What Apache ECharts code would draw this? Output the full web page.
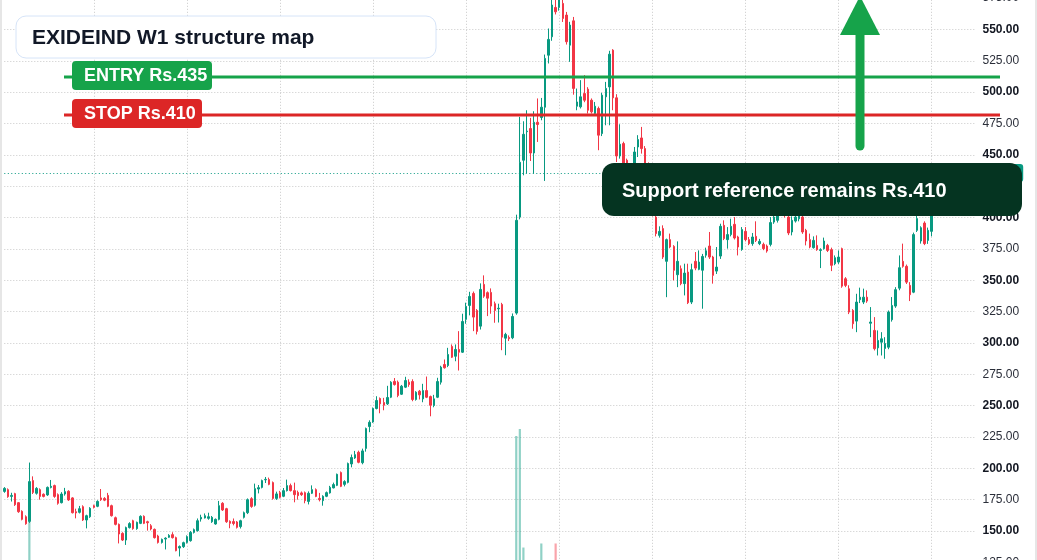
<!DOCTYPE html>
<html>
<head>
<meta charset="utf-8">
<title>EXIDEIND W1</title>
<script src="https://cdn.jsdelivr.net/npm/echarts@6/dist/echarts.min.js"></script>
<style>
  html, body { margin: 0; padding: 0; background: #fff; }
  #chart { width: 1037px; height: 560px; }
</style>
</head>
<body>
<div id="chart"></div>
<script>
// weekly candles (oldest first)
var opens = [
  181.6,183.0,177.6,179.8,172.6,165.7,161.4,157.7,190.2,180.1,
  183.0,179.3,178.8,184.8,186.2,179.0,172.6,179.5,181.7,176.4,
  165.4,164.9,169.4,158.8,161.4,170.2,169.7,176.4,176.0,178.4,
  170.2,160.6,155.3,148.1,142.8,152.7,158.2,151.9,156.1,161.7,
  157.4,154.2,151.3,146.0,140.9,143.6,145.0,147.1,144.7,136.4,
  137.5,140.9,142.3,148.9,150.3,159.6,160.4,160.1,157.4,155.6,
  159.3,172.1,167.8,157.7,157.5,157.2,153.5,160.9,164.6,175.8,
  170.5,183.5,184.8,190.8,191.0,188.6,176.0,180.6,177.7,182.2,
  186.2,182.2,180.8,180.4,180.6,173.6,180.1,183.0,176.0,174.2,
  177.7,180.4,184.4,186.4,196.6,187.2,188.8,203.5,208.3,212.8,
  204.5,215.9,233.3,237.0,247.7,255.7,252.5,251.4,256.7,269.3,
  268.7,259.1,264.7,268.7,269.2,254.9,261.5,255.4,262.0,257.2,
  250.1,256.7,268.7,282.8,282.0,297.2,289.4,294.8,292.6,318.8,
  329.9,339.5,325.9,313.4,346.7,340.1,340.3,331.3,327.2,330.7,
  303.8,304.4,304.1,323.8,400.4,445.7,468.5,471.0,451.5,476.0,
  479.8,488.0,529.5,544.2,567.6,567.6,570.8,561.5,537.5,556.9,
  488.8,488.3,498.9,502.4,493.6,483.0,487.0,467.0,496.3,504.2,
  533.5,495.5,449.1,459.0,445.7,440.0,443.1,456.3,463.5,455.0,
  440.0,428.0,400.4,385.8,391.2,365.1,382.4,377.0,354.4,359.2,
  347.3,356.5,332.6,365.1,358.7,358.0,370.0,377.3,368.5,357.3,
  369.3,393.8,382.4,386.4,394.6,384.5,374.6,389.0,382.4,379.2,
  385.0,379.2,378.6,377.3,378.6,396.4,397.8,404.0,410.0,400.4,
  388.5,397.2,399.0,400.4,389.8,382.4,376.0,377.8,373.8,375.2,
  377.8,374.4,363.2,364.5,375.2,351.2,343.2,325.9,317.4,334.5,
  332.6,336.5,315.7,310.0,296.1,300.6,295.6,296.6,318.5,329.4,
  343.7,365.1,361.1,345.9,340.5,389.8,381.3,395.6,381.8,389.0
];
var closes = [
  184.0,177.4,178.4,171.0,165.4,159.3,155.8,189.4,180.8,184.0,
  177.6,177.6,184.8,185.6,177.6,172.1,179.5,181.4,174.8,164.6,
  164.4,167.8,158.8,162.2,168.1,168.9,173.6,175.0,174.6,169.7,
  162.2,155.3,147.6,142.8,152.7,155.9,151.9,156.9,161.7,156.1,
  156.6,151.6,144.7,140.9,143.3,144.3,146.5,144.7,134.3,137.6,
  140.7,145.5,148.9,151.1,158.2,160.9,162.2,161.4,160.9,159.3,
  170.2,166.8,157.4,156.1,156.0,152.9,158.2,164.6,175.0,169.6,
  183.8,184.6,190.2,191.2,187.2,176.0,179.6,176.9,182.2,186.2,
  182.2,179.0,178.2,179.0,174.2,180.1,183.0,177.6,175.0,177.7,
  180.6,184.8,187.0,195.2,185.6,189.4,203.8,208.6,210.9,204.8,
  213.9,231.7,236.7,247.7,254.1,251.4,250.3,256.5,268.7,266.8,
  258.1,265.5,270.0,266.8,254.9,260.7,258.6,262.0,256.7,250.3,
  255.4,269.2,280.7,280.2,290.8,288.6,294.8,292.6,317.1,329.1,
  337.1,320.6,309.2,342.7,337.3,335.7,329.4,325.9,327.7,304.6,
  306.8,303.4,321.1,397.8,444.1,466.4,469.0,451.5,476.0,474.2,
  488.0,526.9,542.1,569.5,564.1,573.5,558.8,540.2,553.5,503.0,
  492.2,496.3,493.6,485.6,484.3,488.8,465.7,497.6,503.0,530.3,
  495.5,449.1,458.5,440.3,441.0,433.0,452.3,462.2,455.0,440.0,
  428.0,404.0,387.2,389.0,368.5,382.4,376.5,357.9,365.1,347.3,
  355.7,332.1,358.4,359.7,364.5,369.0,373.5,368.5,353.9,360.5,
  393.0,383.2,386.4,393.0,383.7,376.5,390.4,382.4,379.2,384.5,
  381.8,381.0,375.2,373.3,396.0,400.4,404.2,410.0,403.0,387.7,
  397.8,400.4,404.0,388.5,381.3,376.5,381.8,374.4,374.4,381.3,
  373.8,361.9,368.0,368.5,345.3,345.9,324.6,315.3,332.6,336.5,
  336.5,333.4,316.7,295.4,302.0,303.3,299.6,324.6,329.9,342.5,
  360.0,361.1,348.5,338.5,386.4,399.2,391.9,379.2,389.8,435.5
];
var lows = [
  180.5,176.5,173.5,170.0,164.5,158.5,155.0,156.5,179.5,179.0,
  175.0,176.8,178.0,184.0,176.5,171.0,172.0,178.2,174.0,164.0,
  160.1,164.0,158.0,152.1,160.5,168.0,169.0,174.0,173.8,169.0,
  161.5,154.5,140.1,142.0,138.9,152.0,151.0,151.0,155.5,155.5,
  150.3,150.5,144.0,140.0,140.0,135.3,144.5,144.0,133.8,129.7,
  136.5,140.0,141.5,148.0,149.5,157.5,160.0,159.0,156.5,155.0,
  158.5,166.0,156.5,152.2,154.5,152.0,152.0,160.0,163.5,168.5,
  169.5,180.0,184.0,188.3,186.5,175.0,174.8,176.0,177.0,181.5,
  181.5,172.9,175.0,178.0,172.1,171.2,179.5,177.0,173.6,170.2,
  177.0,179.8,184.0,185.8,185.0,185.6,188.0,200.8,207.5,204.0,
  203.2,213.3,228.8,236.3,247.0,243.9,246.3,250.5,256.0,266.0,
  256.7,258.5,264.0,265.0,253.5,254.0,254.9,252.7,256.0,241.5,
  248.7,256.0,266.8,279.5,280.7,288.0,285.4,278.0,292.0,315.3,
  322.0,309.4,306.8,310.7,336.0,321.4,323.3,316.1,316.3,294.2,
  290.2,301.5,303.0,322.5,398.6,433.7,435.3,445.1,435.1,460.3,
  477.6,429.2,522.9,541.0,562.0,565.0,556.0,538.0,524.2,498.0,
  485.6,487.0,492.0,483.0,483.0,481.5,453.7,465.0,473.6,473.6,
  485.6,444.3,447.0,438.0,437.0,430.0,440.0,448.3,451.0,436.0,
  424.0,401.0,385.0,384.0,367.0,336.5,375.5,349.9,344.5,346.0,
  337.9,331.0,331.0,358.0,358.0,327.3,368.0,367.0,347.3,355.0,
  367.0,382.0,375.2,385.0,382.5,369.8,373.5,381.0,378.0,377.5,
  380.5,378.0,374.0,372.0,377.0,395.0,396.0,402.0,400.0,386.0,
  385.8,396.0,397.0,387.0,377.8,375.5,375.2,373.5,359.7,374.5,
  372.5,357.3,362.0,363.0,344.0,344.5,323.0,311.3,308.6,331.8,
  331.0,332.0,304.6,294.0,290.0,290.0,287.4,295.0,317.0,328.0,
  342.0,360.0,347.0,333.4,339.7,388.5,379.2,378.0,379.0,385.0
];
var highs = [
  185.0,184.0,180.5,180.5,173.0,166.5,162.5,204.6,193.6,185.0,
  184.0,180.0,185.5,190.7,187.0,180.0,181.0,184.4,182.5,177.0,
  167.8,170.0,170.5,163.0,169.0,171.0,174.5,183.5,177.0,180.4,
  171.0,161.5,156.0,149.0,153.5,157.0,159.0,157.5,162.5,162.5,
  158.2,155.5,152.0,147.0,144.0,145.0,147.5,149.0,145.5,138.5,
  141.5,146.5,150.0,152.0,160.0,163.0,164.0,164.6,162.0,160.0,
  174.0,173.0,168.5,158.5,160.0,158.0,159.0,165.5,176.0,177.0,
  187.8,186.7,191.0,193.1,192.6,189.5,181.4,182.0,184.3,191.0,
  187.8,188.6,182.2,181.5,181.5,181.6,186.4,184.0,180.4,178.5,
  181.5,186.0,188.6,195.8,197.5,190.5,204.6,211.0,213.9,214.1,
  215.7,232.5,238.3,248.5,257.5,256.5,256.2,265.8,269.5,272.0,
  270.0,266.5,273.0,271.0,271.0,261.5,262.5,267.4,273.2,258.0,
  258.6,272.2,281.8,286.8,296.1,298.8,298.8,309.4,323.3,332.1,
  340.8,341.0,327.0,347.5,353.9,341.1,343.5,333.0,331.3,332.0,
  308.1,306.0,323.5,402.3,480.3,476.8,485.6,479.5,484.8,495.0,
  495.4,530.0,550.8,574.0,574.0,578.0,578.0,564.0,556.1,560.0,
  502.9,509.6,513.6,504.0,495.0,492.2,488.5,499.5,508.2,533.0,
  534.3,498.4,474.4,460.5,447.0,441.0,456.3,465.7,472.3,457.0,
  444.0,431.0,410.0,393.0,393.8,383.2,387.2,378.0,381.0,361.8,
  363.2,363.2,363.2,372.5,373.8,371.0,376.0,388.5,369.5,376.5,
  395.1,397.8,392.4,399.1,400.4,385.5,392.4,392.4,384.5,387.7,
  397.0,383.0,380.0,378.5,400.4,404.0,408.0,414.0,413.0,405.0,
  401.0,404.0,408.0,404.0,391.0,387.2,385.0,385.8,375.5,384.0,
  379.0,376.0,369.8,373.8,376.0,352.5,346.0,327.0,339.2,344.1,
  343.3,341.9,328.6,320.6,310.0,308.6,304.6,325.9,336.6,344.5,
  369.8,379.2,362.5,348.5,388.0,403.1,393.0,397.0,392.0,440.0
];
// weekly volume (millions)
var volumes = [
  4.2,3.8,3.1,4.6,5.0,4.4,5.3,33.0,9.8,5.1,
  4.0,3.2,3.9,4.8,4.5,3.7,3.3,2.9,3.6,5.2,
  3.4,3.0,4.7,4.1,3.8,2.7,3.1,4.4,2.9,3.9,
  4.3,5.0,6.1,4.4,5.2,3.5,3.6,3.2,3.9,3.4,
  3.0,2.9,3.8,4.1,3.0,3.6,2.8,2.6,5.4,4.9,
  3.7,4.2,4.5,3.3,5.6,4.1,3.5,3.2,2.9,3.1,
  6.4,4.0,4.6,3.1,2.8,3.3,3.6,4.4,6.2,4.3,
  7.5,3.9,5.1,3.4,3.6,5.8,3.2,3.0,3.5,4.2,
  3.7,4.3,3.1,2.6,3.9,4.0,3.4,3.6,2.7,3.3,
  3.0,3.8,3.5,6.3,5.4,3.3,7.9,6.0,4.4,4.8,
  5.9,9.4,6.8,8.1,7.3,5.5,4.6,6.6,8.4,5.1,
  6.0,4.8,5.7,4.2,6.9,4.5,4.1,5.3,5.8,6.2,
  4.9,6.7,7.4,4.3,6.5,6.9,4.8,8.6,9.9,8.8,
  8.2,9.6,7.1,10.4,8.0,6.2,6.6,5.4,4.9,9.1,
  7.6,5.0,8.3,58.4,61.0,17.1,10.2,9.4,11.0,8.7,
  18.6,11.6,10.8,11.9,18.6,9.7,10.5,11.2,9.0,11.8,
  8.9,7.4,7.9,8.5,6.8,6.1,9.3,8.8,7.5,10.6,
  11.3,11.5,8.2,7.7,6.4,6.9,7.2,6.6,6.8,7.9,
  8.4,7.3,8.8,5.9,7.6,8.1,5.7,7.0,6.5,6.3,
  6.0,7.2,6.8,5.1,4.9,6.3,4.4,5.2,5.8,4.6,
  6.9,5.3,4.6,4.8,5.0,4.7,5.5,4.2,3.9,4.1,
  4.4,3.6,3.8,4.0,5.9,5.2,5.0,4.6,4.3,5.1,
  4.5,4.0,4.2,4.7,4.9,4.1,3.8,3.7,4.4,3.9,
  3.6,5.0,3.9,3.5,6.6,4.6,6.1,5.7,6.4,4.3,
  4.0,3.8,4.7,5.8,4.9,4.2,5.1,6.7,5.6,6.0,
  6.9,5.3,5.0,5.5,9.6,7.2,5.4,5.9,5.1,8.7
];
var entryPrice = 435;
var stopPrice = 410;
var chartTitle = 'EXIDEIND W1 structure map';
var padBars = 12; // empty space right of the last candle

var upColor = '#089981';
var downColor = '#f23645';
var font = '"Liberation Sans", Arial, sans-serif';

var weeks = [];
for (var i = 0; i < opens.length + padBars; i++) {
    weeks.push('W' + (i + 1));
}
var candles = opens.map(function (o, i) {
    return [o, closes[i], lows[i], highs[i]];
});
var volumeBars = volumes.map(function (v, i) {
    return {
        value: v,
        itemStyle: {color: closes[i] >= opens[i] ? 'rgba(8,153,129,0.45)' : 'rgba(242,54,69,0.45)'}
    };
});
var lastClose = closes[closes.length - 1];

var myChart = echarts.init(document.getElementById('chart'));
option = {
    animation: false,
    backgroundColor: '#ffffff',
    grid: [
        // price pane runs past the top and bottom of the window
        {left: 4.3, right: 62.5, top: -33.2, bottom: -33.7, outerBoundsMode: 'none', containLabel: false},
        // volume overlay
        {left: 4.3, right: 62.5, top: 429, bottom: -33.7, outerBoundsMode: 'none', containLabel: false}
    ],
    xAxis: [{
        type: 'category',
        data: weeks,
        boundaryGap: false,
        axisLine: {show: false},
        axisTick: {show: false},
        axisLabel: {show: false},
        splitLine: {
            show: true,
            interval: function (index) {
                return index % 26 === 25;
            },
            lineStyle: {color: '#c9c9c9', type: [1, 2], width: 1}
        }
    }, {
        type: 'category',
        gridIndex: 1,
        data: weeks,
        boundaryGap: false,
        show: false
    }],
    yAxis: [{
        type: 'value',
        position: 'right',
        min: 100,
        max: 600,
        interval: 25,
        axisLine: {show: false},
        axisTick: {show: false},
        axisLabel: {
            margin: 8,
            formatter: function (v) {
                return (v % 50 === 0 ? '{b|' : '{n|') + v.toFixed(2) + '}';
            },
            rich: {
                b: {fontFamily: font, fontSize: 12, fontWeight: 'bold', color: '#131722'},
                n: {fontFamily: font, fontSize: 12, color: '#2a2e39'}
            }
        },
        splitLine: {lineStyle: {color: '#c9c9c9', type: [1, 2], width: 1}}
    }, {
        type: 'value',
        gridIndex: 1,
        min: 0,
        max: 'dataMax',
        show: false,
        splitLine: {show: false}
    }],
    series: [{
        name: 'Volume',
        type: 'bar',
        xAxisIndex: 1,
        yAxisIndex: 1,
        barWidth: 2.2,
        data: volumeBars
    }, {
        name: 'EXIDEIND',
        type: 'candlestick',
        barWidth: 2,
        clip: false,
        data: candles,
        itemStyle: {
            color: upColor,
            color0: downColor,
            borderColor: upColor,
            borderColor0: downColor,
            borderWidth: 1
        },
        // last price line with its axis tag
        markLine: {
            silent: true,
            symbol: ['none', 'none'],
            lineStyle: {color: upColor, type: [1, 2.5], width: 1},
            label: {
                position: 'end',
                distance: 4,
                formatter: lastClose.toFixed(2),
                color: '#fff',
                fontFamily: font,
                fontSize: 12,
                fontWeight: 'bold',
                backgroundColor: upColor,
                padding: [3, 4],
                borderRadius: 3
            },
            data: [{yAxis: lastClose}]
        }
    }],
    graphic: [
        // frame edges
        {type: 'rect', z: 100, shape: {x: 0, y: 0, width: 2, height: 560}, style: {fill: '#e6e6e6'}},
        {type: 'rect', z: 100, shape: {x: 1035, y: 0, width: 2, height: 560}, style: {fill: '#e6e6e6'}},
        // title card
        {type: 'rect', z: 100, shape: {x: 16, y: 16, width: 420, height: 42, r: 10},
            style: {fill: '#ffffff', stroke: '#d6e4f8', lineWidth: 1}},
        {type: 'text', z: 101, x: 32, y: 38,
            style: {text: chartTitle, font: 'bold 21px ' + font, fill: '#111827',
                align: 'left', verticalAlign: 'middle', textAlign: 'left', textVerticalAlign: 'middle'}},
        // entry level
        {type: 'line', z: 100, shape: {x1: 64, y1: 77, x2: 1000, y2: 77}, style: {stroke: '#16a34a', lineWidth: 3}},
        {type: 'rect', z: 101, shape: {x: 72, y: 61, width: 140, height: 29, r: 4}, style: {fill: '#16a34a'}},
        {type: 'text', z: 102, x: 84, y: 76,
            style: {text: 'ENTRY Rs.' + entryPrice, font: 'bold 18px ' + font, fill: '#ffffff',
                align: 'left', verticalAlign: 'middle', textAlign: 'left', textVerticalAlign: 'middle'}},
        // stop level
        {type: 'line', z: 100, shape: {x1: 64, y1: 115, x2: 1000, y2: 115}, style: {stroke: '#dc2626', lineWidth: 3}},
        {type: 'rect', z: 101, shape: {x: 72, y: 99, width: 130, height: 29, r: 4}, style: {fill: '#dc2626'}},
        {type: 'text', z: 102, x: 84, y: 114,
            style: {text: 'STOP Rs.' + stopPrice, font: 'bold 18px ' + font, fill: '#ffffff',
                align: 'left', verticalAlign: 'middle', textAlign: 'left', textVerticalAlign: 'middle'}},
        // upside arrow
        {type: 'line', z: 100, shape: {x1: 860, y1: 146, x2: 860, y2: 30},
            style: {stroke: '#16a34a', lineWidth: 9, lineCap: 'round'}},
        {type: 'polygon', z: 100, shape: {points: [[860, -4], [880, 35], [840, 35]]}, style: {fill: '#16a34a'}},
        // support note
        {type: 'rect', z: 103, shape: {x: 602, y: 163, width: 420, height: 53, r: 12}, style: {fill: '#053421'}},
        {type: 'text', z: 104, x: 622, y: 191,
            style: {text: 'Support reference remains Rs.' + stopPrice, font: 'bold 20px ' + font, fill: '#ffffff',
                align: 'left', verticalAlign: 'middle', textAlign: 'left', textVerticalAlign: 'middle'}}
    ]
};
myChart.setOption(option);
</script>
</body>
</html>
